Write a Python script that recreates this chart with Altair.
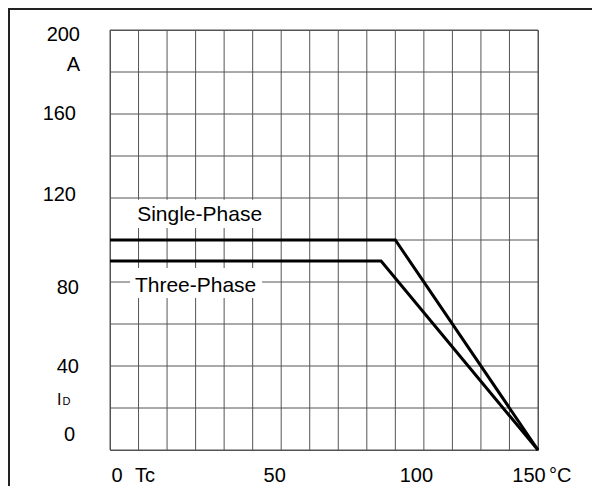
import altair as alt
import pandas as pd

# ---- data ----
series_names = ["Single-Phase", "Three-Phase"]
single_temp = [0, 100, 150]
single_current = [100, 100, 0]
three_temp = [0, 95, 150]
three_current = [90, 90, 0]

x_tick_values = [0, 50, 100, 150]
x_tick_labels = ["0", "50", "100", "150"]
y_tick_values = [200, 160, 120, 80, 40, 0]
y_tick_labels = ["200", "160", "120", "80", "40", "0"]

x_grid_values = list(range(0, 151, 10))
y_grid_values = list(range(0, 201, 20))

FONT = "Liberation Sans"
GRID = "#555"
W, H = 428, 420
xs = alt.Scale(domain=[0, 150], nice=False, zero=False)
ys = alt.Scale(domain=[0, 200], nice=False, zero=False)

# grid
xg = alt.Chart(pd.DataFrame({"g": x_grid_values})).mark_rule(color=GRID, strokeWidth=1).encode(
    x=alt.X("g:Q", scale=xs, axis=None), y=alt.value(0), y2=alt.value(H))
yg = alt.Chart(pd.DataFrame({"g": y_grid_values})).mark_rule(color=GRID, strokeWidth=1).encode(
    y=alt.Y("g:Q", scale=ys, axis=None), x=alt.value(0), x2=alt.value(W))

lines_df = pd.DataFrame({
    "temp": single_temp + three_temp,
    "current": single_current + three_current,
    "series": [series_names[0]] * len(single_temp) + [series_names[1]] * len(three_temp),
})

lines = alt.Chart(lines_df).mark_line(color="black", strokeWidth=3, strokeJoin="miter").encode(
    x=alt.X("temp:Q", scale=xs, axis=None),
    y=alt.Y("current:Q", scale=ys, axis=None),
    detail="series:N",
)

# white label backgrounds (annotation boxes)
box_df = pd.DataFrame({
    "x0": [0.35, 7.0], "x1": [56.0, 53.3],
    "y0": [119.2, 86.7], "y1": [105.7, 72.4],
})
boxes = alt.Chart(box_df).mark_rect(color="white").encode(
    x=alt.X("x0:Q", scale=xs, axis=None), x2="x1:Q",
    y=alt.Y("y0:Q", scale=ys, axis=None), y2="y1:Q",
)

# series annotations
ann_df = pd.DataFrame({"name": series_names, "ax": [31.4, 30.0], "ay": [111.9, 78.2]})
ann = alt.Chart(ann_df).mark_text(font=FONT, fontSize=21, color="black", align="center",
                                  baseline="middle").encode(
    x=alt.X("ax:Q", scale=xs, axis=None),
    y=alt.Y("ay:Q", scale=ys, axis=None),
    text="name:N",
)

layers = [xg, yg, boxes, lines, ann]

# y tick labels (style offsets per label)
y_dx = [-30, -34, -34, -31, -31, -35]
y_dy = [5, 0, -3, 6, 1, -15]
for v, lab, px, dy in zip(y_tick_values, y_tick_labels, y_dx, y_dy):
    df = pd.DataFrame({"v": [v], "t": [lab]})
    layers.append(alt.Chart(df).mark_text(font=FONT, fontSize=20, color="black", align="right",
                                          baseline="middle", dy=dy).encode(
        x=alt.value(px), y=alt.Y("v:Q", scale=ys, axis=None), text="t:N"))

# x tick labels
XLAB_Y = 446
x_dx = [7, 22, 21, -9]
for v, lab, dx in zip(x_tick_values, x_tick_labels, x_dx):
    df = pd.DataFrame({"v": [v], "t": [lab]})
    layers.append(alt.Chart(df).mark_text(font=FONT, fontSize=20, color="black", align="center",
                                          baseline="middle", dx=dx).encode(
        x=alt.X("v:Q", scale=xs, axis=None), y=alt.value(XLAB_Y), text="t:N"))

# axis unit / symbol texts
unit_df = pd.DataFrame({"t": ["A"], "v": [200]})
layers.append(alt.Chart(unit_df).mark_text(font=FONT, fontSize=20, color="black", align="right",
                                           baseline="middle", dy=35).encode(
    x=alt.value(-30), y=alt.Y("v:Q", scale=ys, axis=None), text="t:N"))

tc_df = pd.DataFrame({"t": ["Tc"], "v": [0]})
layers.append(alt.Chart(tc_df).mark_text(font=FONT, fontSize=20, color="black", align="left",
                                         baseline="middle", dx=25).encode(
    x=alt.X("v:Q", scale=xs, axis=None), y=alt.value(XLAB_Y), text="t:N"))

deg_df = pd.DataFrame({"t": ["°C"], "v": [150]})
layers.append(alt.Chart(deg_df).mark_text(font=FONT, fontSize=20, color="black", align="left",
                                          baseline="middle", dx=11).encode(
    x=alt.X("v:Q", scale=xs, axis=None), y=alt.value(XLAB_Y), text="t:N"))

i_df = pd.DataFrame({"t": ["I"]})
layers.append(alt.Chart(i_df).mark_text(font=FONT, fontSize=16, color="black", align="left",
                                        baseline="alphabetic").encode(
    x=alt.value(-53), y=alt.value(375), text="t:N"))
d_df = pd.DataFrame({"t": ["D"]})
layers.append(alt.Chart(d_df).mark_text(font=FONT, fontSize=11, color="black", align="left",
                                        baseline="alphabetic").encode(
    x=alt.value(-47.5), y=alt.value(375), text="t:N"))

# outer frame (top and left edges)
frame_df = pd.DataFrame({"k": [1]})
layers.append(alt.Chart(frame_df).mark_rule(color="#222", strokeWidth=2).encode(
    x=alt.value(-102), x2=alt.value(490), y=alt.value(-21)))
layers.append(alt.Chart(frame_df).mark_rule(color="#222", strokeWidth=2).encode(
    x=alt.value(-101), y=alt.value(-22), y2=alt.value(470)))

chart = alt.layer(*layers).properties(
    width=W, height=H,
    autosize=alt.AutoSizeParams(type="none"),
    padding={"left": 102, "top": 22, "right": 54, "bottom": 36},
    background="white",
).configure_view(stroke=GRID, strokeWidth=1)

chart.save("out.html", embed_options={"renderer": "svg", "actions": False})
